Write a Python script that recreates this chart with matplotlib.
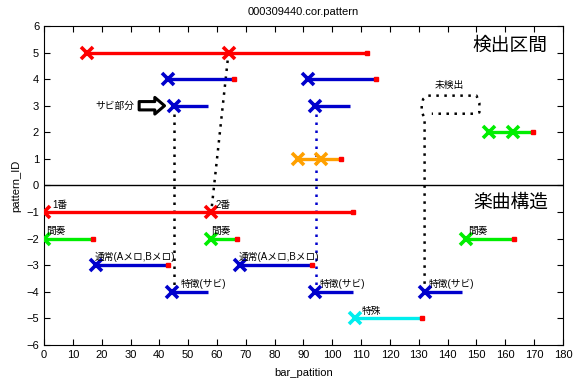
import matplotlib
matplotlib.use("Agg")
import matplotlib.pyplot as plt

plt.rcParams['font.family'] = ['Liberation Sans', 'Noto Sans CJK JP', 'DejaVu Sans']

# (y, start, end, colour, extra marker positions, red end?)
seg_y = [5, 4, 4, 3, 3, 2, 1, -1, -2, -2, -2, -3, -3, -4, -4, -4, -5]
seg_x0 = [15, 43, 91.5, 45, 94, 154.5, 88, 0, 0, 58, 146.5, 18, 68, 44.5, 94, 132, 108]
seg_x1 = [112, 66, 115, 57, 106, 169.5, 103, 107, 17, 67, 163, 43, 93, 57, 107, 145, 131]
seg_marks = [[15, 64], [43], [91.5], [45], [94], [154.5, 162.5], [88, 96], [0, 58], [0], [58], [146.5],
             [18], [68], [44.5], [94], [132], [108]]
seg_col = ['#ff0000', '#0000cc', '#0000cc', '#0000cc', '#0000cc', '#00ee00', '#ffa000', '#ff0000',
           '#00ee00', '#00ee00', '#00ee00', '#0000cc', '#0000cc', '#0000cc', '#0000cc', '#0000cc', '#00eeee']
seg_redend = [1, 1, 1, 0, 0, 1, 1, 1, 1, 1, 1, 1, 1, 0, 0, 0, 1]

labels = ['1番', '2番', '間奏', '間奏', '間奏', '通常(Aメロ,Bメロ)', '通常(Aメロ,Bメロ)',
          '特徴(サビ)', '特徴(サビ)', '特徴(サビ)', '特殊']
label_x = [3, 59.5, 0.8, 57.8, 147, 17.5, 67.5, 47.5, 95.5, 133.5, 110.3]
label_y = [-0.72, -0.72, -1.72, -1.72, -1.72, -2.7, -2.7, -3.7, -3.7, -3.7, -4.72]

# dotted guide lines
dot1_x = [45, 45]
dot1_y = [3, -4]
dot2_x = [64, 58]
dot2_y = [5, -1]
dot3_x = [94.3, 94.3]
dot3_y = [3, -4]
miss_x = [132, 132, 131, 131, 131.5, 133, 150, 151, 151, 149, 134.5]
miss_y = [-4, 2.55, 2.75, 3.0, 3.25, 3.38, 3.38, 3.1, 2.75, 2.7, 2.7]

fig = plt.figure(figsize=(5.76, 3.84), dpi=100)
ax = fig.add_axes([0.0764, 0.1016, 0.901, 0.8307])

dots = (0, (1, 2.2))
ax.plot(dot1_x, dot1_y, color='black', lw=1.8, ls=dots, zorder=1)
ax.plot(dot2_x, dot2_y, color='black', lw=1.8, ls=dots, zorder=1)
ax.plot(dot3_x, dot3_y, color='#0000cc', lw=1.8, ls=dots, zorder=1)
ax.plot(miss_x, miss_y, color='black', lw=1.8, ls=dots, zorder=1)

for y, a, b, c, m, r in zip(seg_y, seg_x0, seg_x1, seg_col, seg_marks, seg_redend):
    ax.plot([a, b], [y, y], color=c, lw=2.4, solid_capstyle='butt', zorder=2)
    if r:
        ax.plot([b], [y], marker='s', ms=3, color='#ff0000', mec='#ff0000', zorder=3)
    ax.plot(m, [y] * len(m), ls='none', marker='x', ms=8, mew=2.6, color=c, zorder=4)

ax.axhline(0, color='black', lw=1)

for t, x, y in zip(labels, label_x, label_y):
    ax.text(x, y, t, fontsize=7, ha='left', va='center', zorder=5)

ax.text(174.5, 5.25, '検出区間', fontsize=13.5, ha='right', va='center')
ax.text(175, -0.65, '楽曲構造', fontsize=13.5, ha='right', va='center')
ax.text(140.5, 3.8, '未検出', fontsize=7, ha='center', va='center')
ax.text(31.5, 3.0, 'サビ部分', fontsize=7, ha='right', va='center')
ax.annotate('', xy=(41.8, 3.0), xytext=(33, 3.0),
            arrowprops=dict(arrowstyle='simple,head_length=0.7,head_width=1.2,tail_width=0.6',
                            fc='white', ec='black', lw=2.2, shrinkA=0, shrinkB=0))

ax.set_xlim(0, 180)
ax.set_ylim(-6, 6)
ax.set_xticks(range(0, 181, 10))
ax.set_yticks(range(-6, 7))
ax.tick_params(direction='in', top=True, right=True, labelsize=8, length=4)
ax.set_xlabel('bar_patition', fontsize=8, labelpad=6)
ax.set_ylabel('pattern_ID', fontsize=8, labelpad=4)
ax.set_title('000309440.cor.pattern', fontsize=8, pad=8)

fig.savefig('out.png', dpi=100)
